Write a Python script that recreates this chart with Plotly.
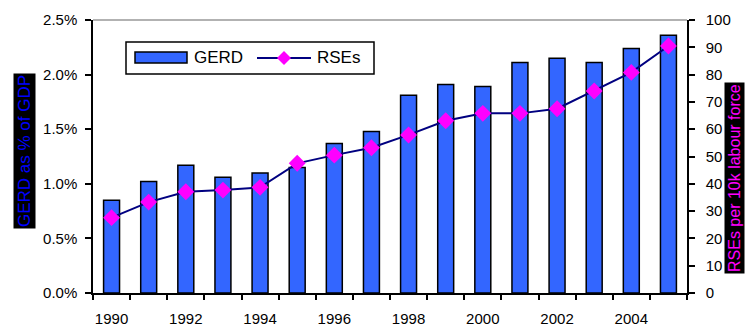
import plotly.graph_objects as go

# Data
years = [str(y) for y in range(1990, 2006)]
gerd_pct = [0.85, 1.02, 1.17, 1.06, 1.10, 1.15, 1.37, 1.48,
            1.81, 1.91, 1.89, 2.11, 2.15, 2.11, 2.24, 2.36]
rses_per_10k = [27.6, 33.3, 37.1, 37.7, 38.7, 47.5, 50.5, 53.2,
                57.9, 63.1, 65.8, 65.8, 67.5, 74.0, 80.8, 90.5]
x_tick_text = [y if int(y) % 2 == 0 else "" for y in years]
gerd_ticks = [0, 0.5, 1.0, 1.5, 2.0, 2.5]
gerd_tick_text = [f"{v:.1f}%" for v in gerd_ticks]

W, H = 745, 329
L, R, T, B = 93, 687, 20, 293
FONT = "Liberation Sans, Arial, sans-serif"
BAR_BLUE = "#3366FF"
LINE_NAVY = "#000080"
MAGENTA = "#FF00FF"


def px(x):
    return (x - L) / (R - L)


def py(y):
    return (B - y) / (B - T)


fig = go.Figure()
fig.add_trace(go.Bar(
    x=years, y=gerd_pct, name="GERD", yaxis="y",
    marker=dict(color=BAR_BLUE, line=dict(color="black", width=1.5)),
    showlegend=False,
))
fig.add_trace(go.Scatter(
    x=years, y=rses_per_10k, name="RSEs", yaxis="y2", mode="lines+markers",
    line=dict(color=LINE_NAVY, width=2),
    marker=dict(symbol="diamond", size=13, color=MAGENTA, line=dict(width=0)),
    showlegend=False,
))

axis_common = dict(
    showline=True, linecolor="black", linewidth=1.5, ticks="outside",
    tickcolor="black", tickwidth=1.5, showgrid=False, zeroline=False,
    tickangle=0, automargin=False,
    tickfont=dict(family=FONT, size=15, color="black"),
)

fig.update_layout(
    width=W, height=H,
    margin=dict(l=L, r=W - R, t=T, b=H - B, pad=0),
    paper_bgcolor="white", plot_bgcolor="white",
    bargap=0.57,
    font=dict(family=FONT, color="black"),
    xaxis=dict(type="category", range=[-0.5, len(years) - 0.5],
               tickvals=years, ticktext=x_tick_text,
               tickson="boundaries", ticklen=5, ticklabelstandoff=11,
               **axis_common),
    yaxis=dict(range=[0, 2.5], tickvals=gerd_ticks, ticktext=gerd_tick_text,
               ticklen=6, ticklabelstandoff=5, **axis_common),
    yaxis2=dict(range=[0, 100], dtick=10, overlaying="y", side="right",
                ticklen=6, ticklabelstandoff=8, **axis_common),
)

shapes = [
    # grey top frame line
    dict(type="line", xref="paper", yref="paper", x0=0, x1=1, y0=1, y1=1,
         line=dict(color="#999999", width=1.5)),
    # legend box
    dict(type="rect", xref="paper", yref="paper",
         x0=px(126), x1=px(374), y0=py(74), y1=py(42),
         line=dict(color="black", width=1.5), fillcolor="white"),
    # bar swatch
    dict(type="rect", xref="paper", yref="paper",
         x0=px(135), x1=px(187), y0=py(63), y1=py(52),
         line=dict(color="black", width=1.5), fillcolor=BAR_BLUE),
    # line swatch
    dict(type="line", xref="paper", yref="paper",
         x0=px(257), x1=px(311), y0=py(58), y1=py(58),
         line=dict(color=LINE_NAVY, width=2)),
]
# diamond on the line swatch
cx, cy, r = 284, 58, 7
diamond = (f"M {px(cx - r)} {py(cy)} L {px(cx)} {py(cy - r)} "
           f"L {px(cx + r)} {py(cy)} L {px(cx)} {py(cy + r)} Z")
shapes.append(dict(type="path", xref="paper", yref="paper", path=diamond,
                   fillcolor=MAGENTA, line=dict(width=0)))

annotations = [
    dict(text="GERD", xref="paper", yref="paper", x=px(192), y=py(58),
         xanchor="left", yanchor="middle", showarrow=False,
         font=dict(family=FONT, size=17, color="black")),
    dict(text="RSEs", xref="paper", yref="paper", x=px(315), y=py(58),
         xanchor="left", yanchor="middle", showarrow=False,
         font=dict(family=FONT, size=17, color="black")),
    dict(text="GERD as % of GDP", xref="paper", yref="paper",
         x=px(24), y=py(151), xanchor="center", yanchor="middle",
         textangle=-90, showarrow=False, bgcolor="black", borderpad=1,
         font=dict(family=FONT, size=17, color="#0000FF")),
    dict(text="RSEs per 10k labour force", xref="paper", yref="paper",
         x=px(735), y=py(178), xanchor="center", yanchor="middle",
         textangle=-90, showarrow=False, bgcolor="black", borderpad=1,
         font=dict(family=FONT, size=16, color=MAGENTA)),
]

fig.update_layout(shapes=shapes, annotations=annotations)
fig.write_html("out.html")
